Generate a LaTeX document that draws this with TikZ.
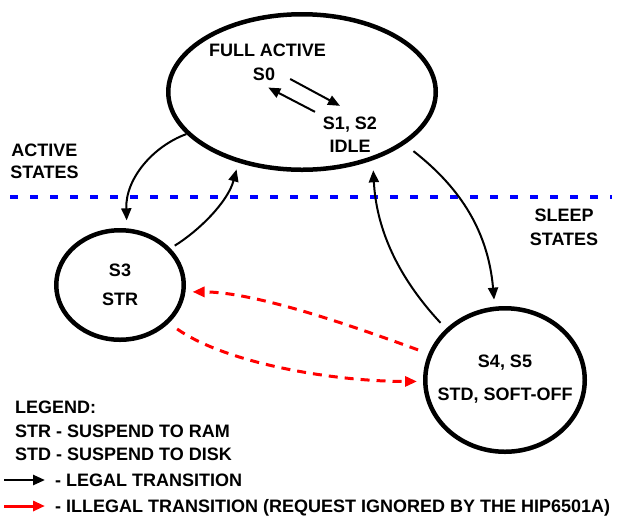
\documentclass[tikz,border=0pt]{standalone}
\usepackage{fontspec}
\setmainfont{Liberation Sans}
\usetikzlibrary{arrows.meta,shapes.geometric,calc}
\tikzset{>={Triangle[length=12pt,width=10pt]}}
\tikzset{state/.style={draw,ellipse,line width=4.5pt,inner sep=0pt}}

\begin{document}
\begin{tikzpicture}[x=1pt,y=1pt,
    every node/.style={font=\fontsize{18}{22}\selectfont\bfseries},
    lbl/.style={inner sep=0pt,text height=12.9pt,text depth=0pt},
    legal/.style={->,line width=2pt},
    illegal/.style={->,red,line width=3pt,dash pattern=on 9pt off 7pt},
    divider/.style={blue,line width=3.3pt,dash pattern=on 8pt off 12pt}]
  \useasboundingbox (0,0) rectangle (617,-515);

  % full active and idle
  \node[state,minimum width=267.5pt,minimum height=155.5pt] (full) at (302,-92) {};
  \node[lbl] (fa) at (267.5,-50) {FULL ACTIVE};
  \node[lbl] (s0) at (264,-74) {S0};
  \node[lbl] (s12) at (350,-123) {S1, S2};
  \node[lbl] (idle) at (350,-146) {IDLE};
  \draw[legal] ([shift={(15,-5)}]s0.east) -- ([shift={(-10,10.5)}]s12.north);
  \draw[legal] ([shift={(-35,4.5)}]s12.north) -- ([shift={(4.3,-6.9)}]s0.south);

  % suspend to ram
  \node[state,minimum width=127.5pt,minimum height=109.5pt] (s3) at (120,-285) {};
  \node[align=center,inner sep=0pt] (s3t) at (s3) {S3\\[6.5pt]STR};

  % suspend to disk, soft off
  \node[state,minimum width=159.5pt,minimum height=143.5pt] (s4) at (505,-380) {};
  \node[align=center,inner sep=0pt] (s4t) at ($(s4)+(0,1)$) {S4, S5\\[11pt]STD, SOFT-OFF};

  % active / sleep border
  \coordinate (dl) at (10,-197);
  \coordinate (dr) at (612,-197);
  \draw[divider] (dl) -- (dr);
  \node[align=center,inner sep=0pt] (actv) at (44.5,-161) {ACTIVE\\STATES};
  \node[align=center,inner sep=0pt] (slp) at (564,-227) {SLEEP\\[2pt]STATES};

  % legal transitions
  \draw[legal,shorten >=8pt] (full.200) .. controls +(200:35) and +(92:50) .. (s3.83);
  \draw[legal,shorten <=5pt,shorten >=7pt] (s3.36) .. controls +(32:35) and +(255:40) .. (full.228);
  \draw[legal,shorten <=8pt,shorten >=10pt] (s4.139) .. controls +(133:75) and +(-87:65) .. (full.316);
  \draw[legal,shorten <=11pt,shorten >=7pt] (full.333) .. controls +(-38:65) and +(95:80) .. (s4.98);

  % illegal transitions
  \draw[illegal,shorten <=11pt,shorten >=7pt] (s4.161) .. controls +(160:80) and +(0:70) .. (s3.354);
  \draw[illegal,shorten <=10pt,shorten >=6pt] (s3.322) .. controls +(-35:70) and +(180:90) .. (s4.181);

  % legend
  \node[lbl,anchor=west] (lgd) at (15,-407) {LEGEND:};
  \node[lbl,anchor=west] (strd) at (15,-431) {STR - SUSPEND TO RAM};
  \node[lbl,anchor=west] (stdd) at (15,-454) {STD - SUSPEND TO DISK};
  \node[lbl,anchor=west] (tlegal) at (55,-480) {- LEGAL TRANSITION};
  \node[lbl,anchor=west] (tillegal) at (55,-506) {- ILLEGAL TRANSITION (REQUEST IGNORED BY THE HIP6501A)};
  \coordinate (la) at (4,-480);
  \coordinate (ia) at (4,-506);
  \draw[->,line width=2.5pt] (la) -- ([xshift=-10pt]tlegal.west);
  \draw[->,red,line width=3pt] (ia) -- ([xshift=-10pt]tillegal.west);
\end{tikzpicture}
\end{document}
